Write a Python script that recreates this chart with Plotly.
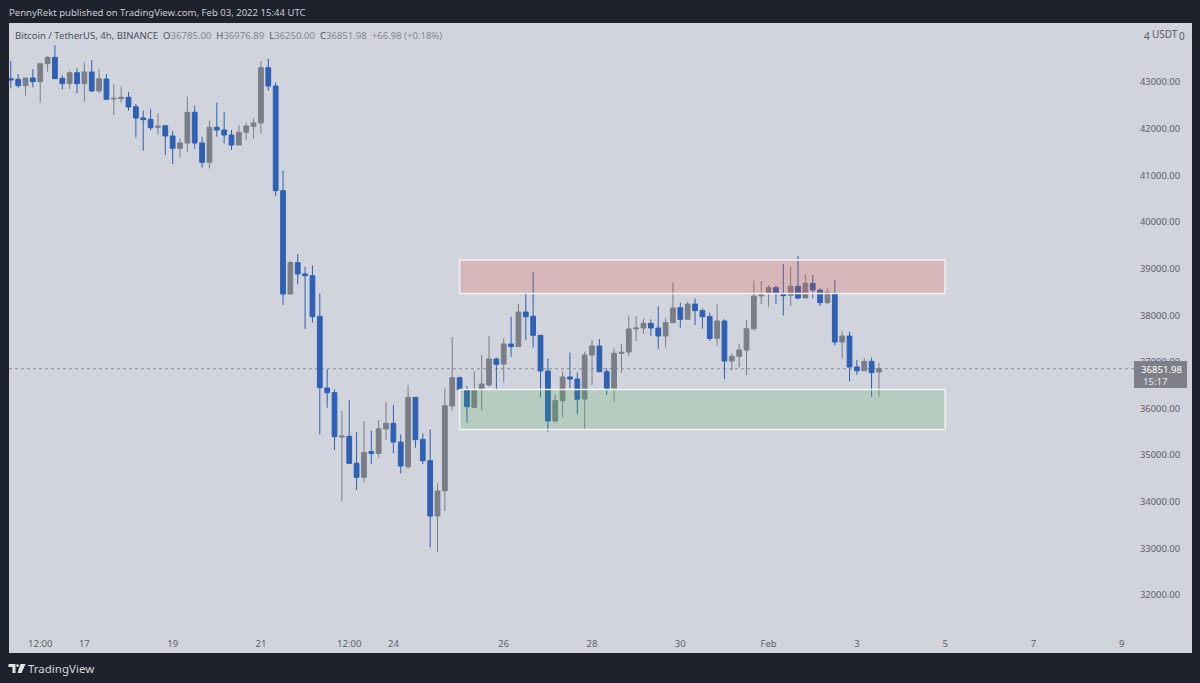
import plotly.graph_objects as go

highs = [43450,43171,43086,43279,43393,43557,43793,43143,43243,43293,43414,43472,43271,43171,42957,42900,42785,42528,42385,42428,42328,42064,41950,41792,42685,42492,41828,42171,42557,42350,41971,42071,42128,42221,43450,43500,42993,41099,39169,39312,39041,39069,38469,36840,36410,35946,36182,35496,35732,35524,35753,36146,36082,35446,36503,36239,35467,35553,34395,36432,37533,36683,36482,36804,37147,37554,37090,37504,37969,38240,38491,38920,37569,37068,36304,36790,37197,36775,37219,37469,37490,36861,37290,37383,37990,37983,37926,37912,38191,37933,38705,38269,38290,38362,38147,38054,38233,37911,37182,37382,37897,38741,38733,38648,38633,39098,39041,39269,38883,38862,38576,38576,38755,37668,37647,37040,37082,37090,36976.89]
opens = [43071,43057,42921,43086,43007,43393,43529,43078,42964,43200,42964,43214,42807,43064,42635,42643,42671,42471,42228,42200,42028,42064,41842,41578,41692,42350,41692,41277,42028,41971,41864,41649,41921,42050,42121,43307,42914,40670,38455,39127,38884,38848,37976,36439,36339,35388,35403,34824,34524,35074,35038,35560,35682,35281,34752,36239,35338,34881,33695,34238,36054,36661,36397,36025,36411,36504,37061,36954,37383,37326,38069,37976,37569,36804,35732,36168,36675,36632,36204,37147,37340,36790,36432,37183,37211,37705,37726,37826,37726,37554,37840,38162,37911,38240,38097,37969,37504,37876,37018,37118,37254,37711,38412,38469,38590,38440,38426,38619,38369,38683,38540,38269,38469,37425,37554,36889,36811,37011,36785]
closes = [43043,42921,43086,43007,43393,43529,43071,42964,43200,42964,43214,42807,43071,42628,42650,42671,42464,42228,42192,42021,42050,41842,41578,41692,42350,41692,41277,42028,41971,41864,41649,41921,42057,42121,43307,42914,40670,38455,39127,38884,38848,37969,36446,36339,35396,35410,34824,34524,35060,35038,35567,35682,35281,34767,36239,35331,34881,33695,34231,36060,36661,36411,36039,36397,36525,37061,36947,37383,37326,38069,37969,37569,36804,35732,36168,36675,36632,36197,37147,37340,36790,36432,37183,37204,37705,37726,37826,37726,37554,37840,38154,37911,38240,38097,37969,37504,37876,37018,37118,37254,37711,38412,38433,38590,38469,38419,38619,38369,38683,38540,38269,38490,37425,37554,36889,36811,37011,36768,36851.98]
lows = [42864,42878,42707,42886,42557,43221,43071,42843,42850,42757,42578,42793,42757,42628,42292,42557,42385,41813,41528,41964,41871,41435,41242,41378,41499,41571,41163,41142,41828,41685,41542,41649,41756,41792,41899,42814,40556,38219,38455,38662,37704,37840,35446,36017,35110,34016,34824,34252,34416,34810,34945,35324,35038,34609,34702,35160,34810,33023,32916,33802,35954,36411,35696,36025,35968,36468,36411,36554,37111,37326,37469,37304,36239,35503,35696,35811,36432,35875,35553,36504,36775,36290,36146,36768,37126,37447,37597,37554,37276,37311,37840,37733,37911,37790,37711,37447,37347,36632,36811,36882,36718,37668,38240,38169,38240,37997,38197,38340,38369,38362,38197,38240,37354,37068,36582,36725,36811,36253,36250]
candle_index = list(range(len(opens)))

time_tick_index = [4,10,22,34,46,52,67,79,91,103,115,127,139,151]
time_tick_labels = ["12:00","17","19","21","12:00","24","26","28","30","Feb","3","5","7","9"]
price_ticks = [32000,33000,34000,35000,36000,37000,38000,39000,40000,41000,42000,43000]

last_price = 36851.98
resistance_zone = [38465, 39184]
support_zone = [35550, 36407]
zone_index = [61, 127]

W, H = 1200, 683
L, R, T, B = 8.5, 8, 23, 30
def px(x): return (x - L) / (W - L - R)
def py(y): return 1 - (y - T) / (H - T - B)

DARK = "#1e222d"; PANEL = "#d1d4dc"; BLUE = "#2e60b3"; GREY = "#7c7e87"; TXT = "#5d606b"
FONT = "Noto Sans"

fig = go.Figure(go.Candlestick(
    x=candle_index, open=opens, high=highs, low=lows, close=closes,
    increasing=dict(line=dict(color=GREY, width=1), fillcolor=GREY),
    decreasing=dict(line=dict(color=BLUE, width=1), fillcolor=BLUE),
    whiskerwidth=0, showlegend=False, hoverinfo="skip"))

def poly(points):
    return " ".join(f"{'M' if i == 0 else 'L'}{px(a):.5f},{py(b):.5f}" for i, (a, b) in enumerate(points)) + " Z"

shapes = [
    dict(type="rect", xref="x", yref="y", x0=zone_index[0], x1=zone_index[1], y0=resistance_zone[0], y1=resistance_zone[1],
         fillcolor="rgba(245,70,50,0.2)", line=dict(color="#f2f3f5", width=1.5), layer="above"),
    dict(type="rect", xref="x", yref="y", x0=zone_index[0], x1=zone_index[1], y0=support_zone[0], y1=support_zone[1],
         fillcolor="rgba(76,175,80,0.2)", line=dict(color="#f2f3f5", width=1.5), layer="above"),
    dict(type="line", xref="paper", yref="y", x0=0, x1=px(1134), y0=last_price, y1=last_price,
         line=dict(color="#8b8d96", width=1, dash="dot"), layer="below"),
    dict(type="rect", xref="paper", yref="paper", x0=px(1134), x1=px(1187), y0=py(388), y1=py(361),
         fillcolor="#7e8089", line=dict(width=0), layer="above"),
    dict(type="path", xref="paper", yref="paper", layer="above", fillcolor="#e4e5e9", line=dict(width=0),
         path=poly([(8,664),(15,664),(15,673),(12,673),(12,667),(8,667)])),
    dict(type="path", xref="paper", yref="paper", layer="above", fillcolor="#e4e5e9", line=dict(width=0),
         path=poly([(20,664),(25,664),(21,673),(17,673)])),
    dict(type="circle", xref="paper", yref="paper", layer="above", fillcolor="#e4e5e9", line=dict(width=0),
         x0=px(15.6), x1=px(18.4), y0=py(667), y1=py(664.2)),
]

span = lambda c, t: f'<span style="color:{c}">{t}</span>'
vg = "#858892"
legend_text = (span("#4e515c", "Bitcoin / TetherUS, 4h, BINANCE") + "  "
    + span("#4e515c", "O") + span(vg, "36785.00") + "  "
    + span("#4e515c", "H") + span(vg, "36976.89") + "  "
    + span("#4e515c", "L") + span(vg, "36250.00") + "  "
    + span("#4e515c", "C") + span(vg, "36851.98") + "  "
    + span(vg, "+66.98 (+0.18%)"))

def note(x, y, text, size=10, color=TXT, anchor="left", **kw):
    return dict(xref="paper", yref="paper", x=px(x), y=py(y), text=text, showarrow=False,
                xanchor=anchor, yanchor="middle", font=dict(family=FONT, size=size, color=color), **kw)

annotations = [
    note(6, 12, "PennyRekt published on TradingView.com, Feb 03, 2022 15:44 UTC", 9.55, "#c9cbd2"),
    note(13, 35, legend_text, 9.55),
    note(1142, 36, "4", 10), note(1150, 34, "USDT", 10), note(1177, 36, "0", 10),
    note(1184, 369, "36851.98", 9.6, "#ffffff", "right"),
    note(1141, 381, "15:17", 9.6, "#e6e7ea"),
    note(26, 668, "TradingView", 11.5, "#d5d7dc"),
]

fig.update_layout(
    width=W, height=H, margin=dict(l=L, r=R, t=T, b=B, pad=0), autosize=False,
    paper_bgcolor=DARK, plot_bgcolor=PANEL, boxgap=0.08, shapes=shapes, annotations=annotations,
    xaxis=dict(range=[-0.245, 160.55], rangeslider=dict(visible=False), showgrid=False, zeroline=False,
               tickmode="array", tickvals=time_tick_index, ticktext=time_tick_labels,
               ticks="", ticklabelposition="inside", ticklabelstandoff=1, ticklabeloverflow="allow",
               tickfont=dict(family=FONT, size=9.5, color=TXT), showline=False),
    yaxis=dict(range=[30758, 44265], side="right", showgrid=False, zeroline=False, showline=False,
               tickmode="array", tickvals=price_ticks, ticktext=[f"{v:.2f}" for v in price_ticks],
               ticks="", ticklabelposition="inside", ticklabelstandoff=9,
               tickfont=dict(family=FONT, size=9.4, color=TXT)),
)
fig.write_html("out.html", config=dict(displayModeBar=False),
               post_script="document.body.style.margin='0';document.body.style.background='#1e222d';")
